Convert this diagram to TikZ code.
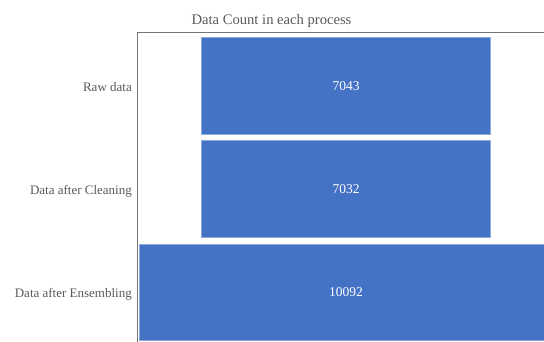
\documentclass[tikz,border=0pt]{standalone}
\usepackage{fontspec}
\setmainfont{Liberation Serif}
\usetikzlibrary{positioning}
\definecolor{barBlue}{HTML}{4472C4}
\definecolor{barEdge}{HTML}{8EA9DB}
\definecolor{axisGray}{HTML}{767676}
\definecolor{textGray}{HTML}{595959}

\begin{document}
\begin{tikzpicture}
  [x=1pt,y=-1pt,
   stage/.style={rectangle,fill=barBlue,draw=barEdge,line width=0.8pt,minimum height=96.5pt,
                 inner sep=0pt,text=white,font=\fontsize{13.5}{16}\selectfont},
   stageLabel/.style={anchor=base east,inner sep=0pt,text=textGray,font=\fontsize{13}{15}\selectfont}]

  \useasboundingbox (0,0) rectangle (544,342);
  \clip (0,0) rectangle (544,342);

  \node[anchor=base,inner sep=0pt,text=textGray,font=\fontsize{14.6}{17}\selectfont] (title) at (271.5,25) {Data Count in each process};

  % plot frame
  \draw[axisGray,line width=1pt] (137.5,360) -- (137.5,32.7) -- (560,32.7);

  \node[stage,minimum width=289pt] (raw)   at (346,85.7)  {7043};
  \node[stage,minimum width=289pt] (clean) at (346,189)   {7032};
  \node[stage,minimum width=414pt] (ens)   at (346,292.3) {10092};

  \node[stageLabel] (rawL)   at (132,91.2)  {Raw data};
  \node[stageLabel] (cleanL) at (132,194.5) {Data after Cleaning};
  \node[stageLabel] (ensL)   at (132,297.5) {Data after Ensembling};

\end{tikzpicture}
\end{document}
